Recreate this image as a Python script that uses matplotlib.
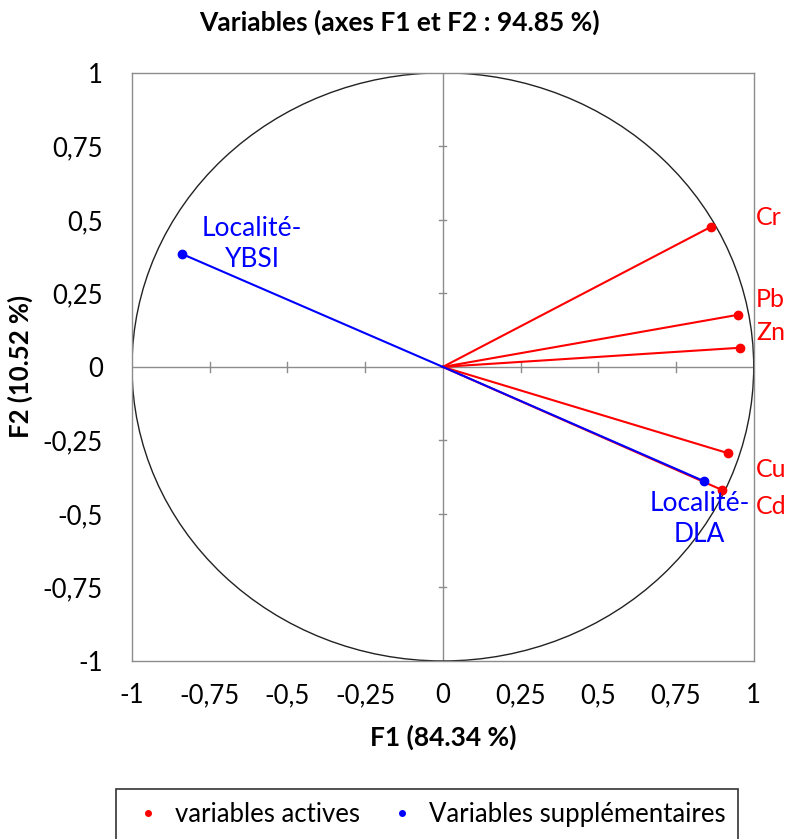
import numpy as np
import matplotlib
matplotlib.use("Agg")
import matplotlib.pyplot as plt
from matplotlib.lines import Line2D
from matplotlib.patches import Ellipse

plt.rcParams['font.family'] = ['Lato', 'DejaVu Sans']

# active variables (red)
act_names = ['Cr', 'Pb', 'Zn', 'Cu', 'Cd']
act_f1 = [0.862, 0.949, 0.955, 0.916, 0.897]
act_f2 = [0.476, 0.177, 0.065, -0.293, -0.418]

# supplementary variables (blue)
sup_names = ['Localité-\nDLA', 'Localité-\nYBSI']
sup_f1 = [0.839, -0.839]
sup_f2 = [-0.388, 0.384]

ticks = [-1, -0.75, -0.5, -0.25, 0, 0.25, 0.5, 0.75, 1]
tick_labels = ['-1', '-0,75', '-0,5', '-0,25', '0', '0,25', '0,5', '0,75', '1']

FS = 19

fig = plt.figure(figsize=(7.87, 8.39), dpi=100)
ax = fig.add_axes([0.1677, 0.2122, 0.790, 0.701])
ax.set_xlim(-1, 1)
ax.set_ylim(-1, 1)

# circle of correlations
ax.add_patch(Ellipse((0, 0), 2, 2, fill=False, edgecolor='#222222', lw=1.0, zorder=2))

# center axes with small cross ticks
ax.axhline(0, color='#8c8c8c', lw=1.0, zorder=1)
ax.axvline(0, color='#8c8c8c', lw=1.0, zorder=1)
for t in ticks[1:-1]:
    if t == 0:
        continue
    ax.plot([t, t], [-0.018, 0.018], color='#8c8c8c', lw=1.0, zorder=1)
    ax.plot([-0.011, 0.011], [t, t], color='#8c8c8c', lw=1.0, zorder=1)

for x, y in zip(act_f1, act_f2):
    ax.plot([0, x], [0, y], color='red', lw=1.5, zorder=3)
    ax.plot(x, y, 'o', color='red', ms=6, zorder=4)
for x, y in zip(sup_f1, sup_f2):
    ax.plot([0, x], [0, y], color='blue', lw=1.5, zorder=3)
    ax.plot(x, y, 'o', color='blue', ms=6, zorder=4)

# labels of active variables: a column just right of the frame
act_dy = {'Cr': 0.031, 'Pb': 0.051, 'Zn': 0.051, 'Cu': -0.057, 'Cd': -0.058}
for name, x, y in zip(act_names, act_f1, act_f2):
    ax.text(1.008, y + act_dy[name], name, color='red', fontsize=FS - 1, ha='left',
            va='center', clip_on=False, zorder=5)
ax.text(sup_f1[0] - 0.013, sup_f2[0] - 0.129, sup_names[0], color='blue', fontsize=FS,
        ha='center', va='center', linespacing=1.3, zorder=5)
ax.text(sup_f1[1] + 0.225, sup_f2[1] + 0.034, sup_names[1], color='blue', fontsize=FS,
        ha='center', va='center', linespacing=1.3, zorder=5)

ax.set_xticks(ticks)
ax.set_xticklabels(tick_labels)
ax.set_yticks(ticks)
ax.set_yticklabels(tick_labels)
ax.tick_params(length=0, labelsize=FS - 0.5)
ax.tick_params(axis='x', pad=16)
ax.tick_params(axis='y', pad=21)
for s in ax.spines.values():
    s.set_color('#8c8c8c')
    s.set_linewidth(1.0)

ax.set_xlabel('F1 (84.34 %)', fontsize=FS, fontweight='bold', labelpad=12)
ax.set_ylabel('F2 (10.52 %)', fontsize=FS - 0.5, fontweight='bold', labelpad=7)
fig.text(0.508, 0.973, 'Variables (axes F1 et F2 : 94.85 %)', fontsize=FS,
         fontweight='bold', ha='center', va='center')

handles = [Line2D([], [], ls='none', marker='o', color='red', ms=4),
           Line2D([], [], ls='none', marker='o', color='blue', ms=4)]
leg = fig.legend(handles, ['variables actives', 'Variables supplémentaires'],
                 loc='upper center', bbox_to_anchor=(0.5426, 1 - 776 / 839), ncol=2,
                 fontsize=FS - 0.5, frameon=True, fancybox=False, edgecolor='black',
                 handletextpad=0.3, columnspacing=0.9, borderpad=0.5, handlelength=1.5)
leg.get_frame().set_linewidth(1.2)

fig.savefig('out.png', dpi=100)
